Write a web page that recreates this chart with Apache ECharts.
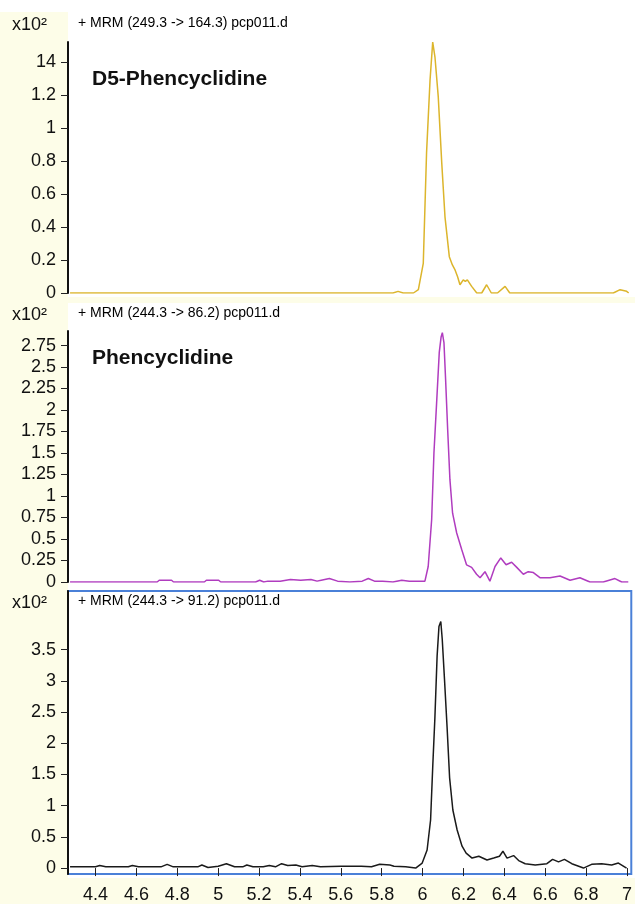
<!DOCTYPE html>
<html>
<head>
<meta charset="utf-8">
<title>MRM chromatograms pcp011.d</title>
<script src="https://cdn.jsdelivr.net/npm/echarts@6.0.0/dist/echarts.min.js"></script>
<style>
html, body { margin: 0; padding: 0; background: #fff; }
#chart { width: 635px; height: 904px; }
</style>
</head>
<body>
<div id="chart"></div>
<script>
// retention time (min), abundance (x10^2 counts)
var d5Trace = [
  [4.275, 0], [4.5, 0], [4.8, 0], [5.1, 0], [5.4, 0], [5.7, 0], [5.85, 0], [5.875, 0.01], [5.9, 0],
  [5.95, 0], [5.974, 0.02], [5.998, 0.18], [6.014, 0.85], [6.031, 1.29], [6.044, 1.52], [6.055, 1.43],
  [6.071, 1.19], [6.088, 0.79], [6.104, 0.46], [6.125, 0.22], [6.14, 0.17], [6.153, 0.14], [6.165, 0.10],
  [6.177, 0.05], [6.193, 0.08], [6.203, 0.07], [6.213, 0.08], [6.234, 0.04], [6.259, 0], [6.283, 0],
  [6.307, 0.05], [6.33, 0], [6.36, 0], [6.397, 0.04], [6.42, 0], [6.6, 0], [6.8, 0], [6.925, 0],
  [6.958, 0.02], [6.99, 0.01], [7.0, 0]
];

var pcp86Trace = [
  [4.275, 0], [4.5, 0], [4.7, 0], [4.71, 0.02], [4.77, 0.02], [4.78, 0], [4.93, 0], [4.94, 0.02],
  [5.0, 0.02], [5.01, 0], [5.18, 0], [5.2, 0.02], [5.22, 0], [5.24, 0.01], [5.3, 0.01], [5.35, 0.03],
  [5.4, 0.02], [5.45, 0.03], [5.48, 0.01], [5.5, 0.02], [5.54, 0.04], [5.58, 0.01], [5.64, 0],
  [5.7, 0.01], [5.73, 0.04], [5.76, 0.01], [5.8, 0.01], [5.85, 0], [5.893, 0.02], [5.93, 0.01],
  [5.97, 0.01], [6.006, 0.01], [6.022, 0.18], [6.039, 0.73], [6.05, 1.50], [6.063, 2.08], [6.076, 2.67],
  [6.085, 2.85], [6.091, 2.90], [6.099, 2.78], [6.107, 2.35], [6.117, 1.77], [6.128, 1.19], [6.141, 0.80],
  [6.161, 0.57], [6.185, 0.38], [6.209, 0.20], [6.234, 0.17], [6.258, 0.09], [6.275, 0.05], [6.299, 0.12],
  [6.323, 0.01], [6.348, 0.18], [6.376, 0.28], [6.402, 0.20], [6.429, 0.23], [6.454, 0.17], [6.486, 0.09],
  [6.51, 0.12], [6.535, 0.11], [6.567, 0.05], [6.616, 0.05], [6.665, 0.07], [6.714, 0.02], [6.762, 0.05],
  [6.811, 0], [6.876, 0], [6.933, 0.04], [6.966, 0], [6.998, 0]
];

var pcp91Trace = [
  [4.275, 0.02], [4.4, 0.02], [4.42, 0.04], [4.45, 0.02], [4.56, 0.02], [4.58, 0.04], [4.61, 0.02],
  [4.72, 0.02], [4.75, 0.06], [4.78, 0.02], [4.9, 0.02], [4.92, 0.05], [4.95, 0.01], [5.0, 0.03],
  [5.04, 0.07], [5.08, 0.02], [5.12, 0.02], [5.14, 0.05], [5.17, 0.02], [5.22, 0.02], [5.25, 0.04],
  [5.28, 0.02], [5.31, 0.07], [5.34, 0.04], [5.38, 0.05], [5.41, 0.02], [5.46, 0.04], [5.5, 0.02],
  [5.6, 0.03], [5.7, 0.03], [5.75, 0.02], [5.79, 0.06], [5.84, 0.05], [5.86, 0.03], [5.917, 0.02],
  [5.966, 0], [5.998, 0.08], [6.022, 0.29], [6.039, 0.77], [6.05, 1.66], [6.06, 2.40], [6.071, 3.40],
  [6.08, 3.87], [6.089, 3.95], [6.096, 3.67], [6.107, 3.03], [6.12, 2.24], [6.132, 1.45], [6.148, 0.93],
  [6.169, 0.61], [6.193, 0.35], [6.213, 0.24], [6.242, 0.16], [6.275, 0.19], [6.315, 0.13], [6.348, 0.16],
  [6.376, 0.19], [6.393, 0.27], [6.413, 0.16], [6.445, 0.20], [6.47, 0.12], [6.502, 0.07], [6.551, 0.05],
  [6.608, 0.07], [6.636, 0.14], [6.665, 0.10], [6.694, 0.14], [6.73, 0.07], [6.787, 0], [6.827, 0.06],
  [6.876, 0.07], [6.925, 0.05], [6.958, 0.08], [6.998, 0]
];

var timeTicks = [4.4, 4.6, 4.8, 5, 5.2, 5.4, 5.6, 5.8, 6, 6.2, 6.4, 6.6, 6.8, 7];
var d5Ticks = [0, 0.2, 0.4, 0.6, 0.8, 1, 1.2, 1.4];
var d5TickLabels = ['0', '0.2', '0.4', '0.6', '0.8', '1', '1.2', '14'];
var pcp86Ticks = [0, 0.25, 0.5, 0.75, 1, 1.25, 1.5, 1.75, 2, 2.25, 2.5, 2.75];
var pcp91Ticks = [0, 0.5, 1, 1.5, 2, 2.5, 3, 3.5];

var traceTitles = [
  '+ MRM (249.3 -> 164.3) pcp011.d',
  '+ MRM (244.3 -> 86.2) pcp011.d',
  '+ MRM (244.3 -> 91.2) pcp011.d'
];
var compoundNames = ['D5-Phencyclidine', 'Phencyclidine'];

var tMin = 4.265, tMax = 7.021;
var labelFont = 'Liberation Sans, Arial, sans-serif';

function labelFor(ticks, labels) {
  return function (v) {
    for (var i = 0; i < ticks.length; i++) {
      if (Math.abs(ticks[i] - v) < 1e-6) return labels ? labels[i] : String(ticks[i]);
    }
    return '';
  };
}

function yAxis(idx, min, max, ticks, labels) {
  return {
    type: 'value',
    gridIndex: idx,
    min: min,
    max: max,
    axisLine: { show: true, lineStyle: { color: '#111', width: 2 } },
    axisTick: { show: true, length: 7, customValues: ticks, lineStyle: { color: '#222', width: 1 } },
    axisLabel: {
      customValues: ticks,
      margin: 12,
      fontSize: 18,
      fontFamily: labelFont,
      color: '#111',
      formatter: labelFor(ticks, labels)
    },
    splitLine: { show: false }
  };
}

function hiddenX(idx) {
  return { type: 'value', gridIndex: idx, min: tMin, max: tMax, show: false, splitLine: { show: false } };
}

function headerText(y, title) {
  return [
    { type: 'text', x: 12, y: y + 1, z: 100,
      style: { text: 'x10²', font: '18px ' + labelFont, fill: '#111', verticalAlign: 'middle' } },
    { type: 'text', x: 78, y: y - 1, z: 100,
      style: { text: title, font: '14px ' + labelFont, fill: '#000', verticalAlign: 'middle' } }
  ];
}

var chart = echarts.init(document.getElementById('chart'));

var option = {
  backgroundColor: '#fdfde8',
  animation: false,
  grid: [
    { left: 68, right: 2, top: 42, height: 251 },
    { left: 68, right: 2, top: 331, height: 251 },
    { left: 68, right: 2, top: 591, height: 287, show: true, backgroundColor: '#fff',
      borderColor: '#4a80d8', borderWidth: 2 }
  ],
  xAxis: [
    hiddenX(0),
    hiddenX(1),
    {
      type: 'value', gridIndex: 2, min: tMin, max: tMax,
      axisLine: { show: false },
      axisTick: { show: true, length: 8, customValues: timeTicks, lineStyle: { color: '#222' } },
      axisLabel: {
        customValues: timeTicks, margin: 12, fontSize: 18, fontFamily: labelFont, color: '#111',
        formatter: labelFor(timeTicks)
      },
      splitLine: { show: false }
    }
  ],
  yAxis: [
    yAxis(0, 0, 1.521, d5Ticks, d5TickLabels),
    yAxis(1, 0, 2.919, pcp86Ticks),
    yAxis(2, -0.095, 4.439, pcp91Ticks)
  ],
  graphic: [
    { type: 'rect', z: -10, shape: { x: 0, y: 0, width: 635, height: 12 }, style: { fill: '#fff' } },
    { type: 'rect', z: -10, shape: { x: 68, y: 12, width: 567, height: 285 }, style: { fill: '#fff' } },
    { type: 'rect', z: -10, shape: { x: 68, y: 303, width: 567, height: 575 }, style: { fill: '#fff' } },
    { type: 'text', x: 92, y: 79, z: 100,
      style: { text: compoundNames[0], font: 'bold 21px ' + labelFont, fill: '#111', verticalAlign: 'middle' } },
    { type: 'text', x: 92, y: 358, z: 100,
      style: { text: compoundNames[1], font: 'bold 21px ' + labelFont, fill: '#111', verticalAlign: 'middle' } }
  ]
    .concat(headerText(24, traceTitles[0]))
    .concat(headerText(314, traceTitles[1]))
    .concat(headerText(602, traceTitles[2])),
  series: [
    { type: 'line', xAxisIndex: 0, yAxisIndex: 0, data: d5Trace, showSymbol: false,
      lineStyle: { color: '#dcb52c', width: 1.5 } },
    { type: 'line', xAxisIndex: 1, yAxisIndex: 1, data: pcp86Trace, showSymbol: false,
      lineStyle: { color: '#b03cbf', width: 1.5 } },
    { type: 'line', xAxisIndex: 2, yAxisIndex: 2, data: pcp91Trace, showSymbol: false,
      lineStyle: { color: '#1a1a1a', width: 1.5 } }
  ]
};

chart.setOption(option);
</script>
</body>
</html>
